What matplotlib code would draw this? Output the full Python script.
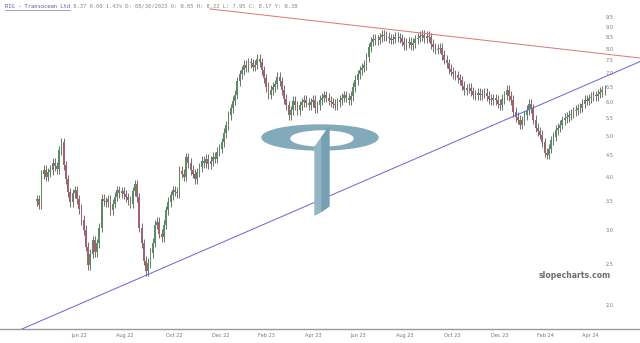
import numpy as np
import pandas as pd
import matplotlib
matplotlib.use("Agg")
import matplotlib.pyplot as plt
from matplotlib.patches import Ellipse, Polygon
from pandas.tseries.offsets import CustomBusinessDay

# ---------------- data ----------------
title_ticker = "RIG - Transocean Ltd"
title_rest = " 8.37 0.00 1.43% D: 08/30/2023 O: 8.05 H: 8.22 L: 7.95 C: 8.17 Y: 8.38"

start_date = "2022-04-06"
nyse_holidays = ["2022-04-15", "2022-05-30", "2022-06-20", "2022-07-04", "2022-09-05",
                 "2022-11-24", "2022-12-26", "2023-01-02", "2023-01-16", "2023-02-20",
                 "2023-04-07", "2023-05-29", "2023-06-19", "2023-07-04", "2023-09-04",
                 "2023-11-23", "2023-12-25", "2024-01-01", "2024-01-15", "2024-02-19",
                 "2024-03-29"]

# closing price every second trading day
closes = [
    3.54, 3.44, 4.05, 4.15, 4.00, 4.10, 4.15, 4.31, 4.23, 4.17,
    4.62, 4.82, 4.26, 3.95, 3.68, 3.49, 3.66, 3.72, 3.54, 3.36,
    3.17, 3.00, 2.74, 2.48, 2.64, 2.84, 2.66, 2.79, 3.04, 3.55,
    3.50, 3.49, 3.54, 3.34, 3.46, 3.59, 3.72, 3.66, 3.70, 3.64,
    3.58, 3.52, 3.46, 3.70, 3.84, 3.58, 3.04, 2.79, 2.54, 2.40,
    2.51, 2.65, 2.80, 3.09, 3.14, 2.94, 2.89, 3.09, 3.34, 3.49,
    3.62, 3.72, 3.69, 3.66, 4.13, 4.07, 4.00, 4.44, 4.31, 4.15,
    4.07, 3.95, 4.10, 4.21, 4.36, 4.31, 4.41, 4.28, 4.36, 4.46,
    4.41, 4.58, 4.66, 4.82, 5.07, 5.28, 5.58, 5.79, 6.04, 6.24,
    6.70, 6.96, 7.11, 7.32, 7.21, 7.43, 7.38, 7.26, 7.33, 7.58,
    7.43, 7.11, 6.81, 6.50, 6.24, 6.40, 6.50, 6.60, 6.86, 6.70,
    6.40, 6.09, 5.89, 5.58, 5.73, 6.04, 5.89, 5.73, 5.89, 5.99,
    6.06, 5.97, 5.89, 5.99, 6.06, 5.79, 5.89, 6.06, 6.14, 6.22,
    6.14, 6.04, 5.99, 5.94, 5.89, 5.99, 6.06, 6.14, 6.22, 6.14,
    6.06, 6.19, 6.50, 6.75, 6.96, 7.11, 7.21, 7.32, 7.63, 8.05,
    8.31, 8.44, 8.36, 8.39, 8.51, 8.61, 8.56, 8.53, 8.46, 8.39,
    8.44, 8.53, 8.50, 8.46, 8.31, 8.16, 8.25, 8.30, 8.16, 8.25,
    8.41, 8.48, 8.56, 8.61, 8.46, 8.56, 8.51, 8.20, 8.05, 7.95,
    8.00, 8.03, 7.73, 7.53, 7.38, 7.16, 7.06, 6.96, 6.93, 6.81,
    6.74, 6.55, 6.40, 6.45, 6.47, 6.35, 6.24, 6.22, 6.30, 6.22,
    6.27, 6.30, 6.19, 6.09, 6.06, 6.11, 6.06, 5.94, 5.90, 6.09,
    6.22, 6.40, 6.19, 6.06, 5.68, 5.53, 5.45, 5.30, 5.43, 5.58,
    5.74, 5.94, 5.79, 5.45, 5.22, 5.12, 5.02, 4.82, 4.56, 4.51,
    4.66, 4.87, 4.97, 5.15, 5.22, 5.30, 5.43, 5.50, 5.53, 5.59,
    5.63, 5.70, 5.74, 5.79, 5.81, 5.94, 6.06, 6.04, 6.12, 6.17,
    6.22, 6.19, 6.27, 6.33, 6.38, 6.40,
]
first_open = 3.50

month_labels = ["Jun 22", "Aug 22", "Oct 22", "Dec 22", "Feb 23", "Apr 23",
                "Jun 23", "Aug 23", "Oct 23", "Dec 23", "Feb 24", "Apr 24"]
month_starts = ["2022-06-01", "2022-08-01", "2022-10-01", "2022-12-01", "2023-02-01",
                "2023-04-01", "2023-06-01", "2023-08-01", "2023-10-01", "2023-12-01",
                "2024-02-01", "2024-04-01"]

ytick_values = [2.0, 2.5, 3.0, 3.5, 4.0, 4.5, 5.0, 5.5, 6.0, 6.5, 7.0, 7.5, 8.0, 8.5, 9.0, 9.5]

# trendlines: (trading-day index, price)
support_x = [-13.5, 542.0]
support_y = [1.757, 7.46]
resist_x = [155.4, 542.0]
resist_y = [9.91, 7.60]

# ---------------- build ----------------
bday = CustomBusinessDay(holidays=pd.to_datetime(nyse_holidays))
n_days = 2 * len(closes)
days = pd.date_range(start_date, periods=n_days, freq=bday)
bar_idx = np.arange(0, n_days, 2)
closes_a = np.array(closes)
opens_a = np.concatenate([[first_open], closes_a[:-1]])

tick_pos = [int(np.searchsorted(days.values, np.datetime64(m))) for m in month_starts]

W, H = 640, 343
fig = plt.figure(figsize=(W / 100, H / 100), dpi=100)
ax = fig.add_axes([0, 14 / H, 1, 1 - 14 / H])
ax.set_yscale("log")
ax.set_ylim(1.757, 10.40)
ax.set_xlim(-33.2, 541.8)

up = closes_a >= opens_a
col_up = "#55905f"
col_dn = "#a8606f"
lo = np.minimum(opens_a, closes_a)
hi = np.maximum(opens_a, closes_a)
ax.vlines(bar_idx, lo * 0.975, hi * 1.025, color="#4a4a4a", lw=0.55, zorder=3)
ax.bar(bar_idx[up], hi[up] - lo[up], bottom=lo[up], width=1.6, color=col_up, zorder=4, linewidth=0)
ax.bar(bar_idx[~up], hi[~up] - lo[~up], bottom=lo[~up], width=1.6, color=col_dn, zorder=4, linewidth=0)

ax.plot(support_x, support_y, color="#6464d8", lw=0.7, zorder=5)
ax.plot(resist_x, resist_y, color="#e07272", lw=0.7, zorder=5)

# axes styling
for s in ["top", "left", "right"]:
    ax.spines[s].set_visible(False)
ax.spines["bottom"].set_color("#999999")
ax.spines["bottom"].set_linewidth(1.0)
ax.set_xticks(tick_pos)
ax.set_xticklabels(month_labels)
ax.tick_params(axis="x", length=0, pad=3, labelsize=3.6, labelcolor="#777777")
ax.yaxis.tick_right()
ax.set_yticks(ytick_values)
ax.set_yticklabels([f"{v:.1f}" for v in ytick_values])
ax.yaxis.set_minor_locator(matplotlib.ticker.NullLocator())
ax.tick_params(axis="y", length=0, pad=-25, labelsize=3.6, labelcolor="#777777")
for lab in ax.get_yticklabels():
    lab.set_horizontalalignment("left")

# logo (figure pixel coordinates)
def fx(x):
    return x / W
def fy(y):
    return 1 - y / H

logo_col = "#82aabb"
ring = Ellipse((fx(320), fy(137.5)), 116 / W, 25 / H, transform=fig.transFigure,
               color=logo_col, zorder=1)
hole = Ellipse((fx(322), fy(138.5)), 62 / W, 15 / H, transform=fig.transFigure,
               color="white", zorder=1.1)
stem_l = Polygon([(fx(315), fy(147)), (fx(322), fy(137)), (fx(322), fy(211)), (fx(315), fy(215))],
                 closed=True, transform=fig.transFigure, color="#93b6c4", zorder=1.2)
stem_r = Polygon([(fx(322), fy(137)), (fx(329), fy(127)), (fx(329), fy(206)), (fx(322), fy(211))],
                 closed=True, transform=fig.transFigure, color="#75a0b2", zorder=1.2)
for p in (ring, hole, stem_l, stem_r):
    fig.patches.append(p)

# title
t1 = fig.text(5 / W, fy(6), title_ticker, fontsize=4.0, family="DejaVu Sans Mono",
              color="#5a5aa8", va="center", ha="left")
fig.canvas.draw()
bb = t1.get_window_extent()
fig.add_artist(plt.Line2D([bb.x0 / W, bb.x1 / W], [fy(9.5), fy(9.5)], color="#5a5aa8",
                          lw=0.4, transform=fig.transFigure))
fig.text(bb.x1 / W, fy(6), title_rest, fontsize=4.0, family="DejaVu Sans Mono",
         color="#888888", va="center", ha="left")

fig.text(fx(575), fy(275), "slopecharts.com", fontsize=5.6, fontweight="bold",
         color="#6e6e6e", ha="center", va="center")

fig.savefig("out.png", dpi=100, facecolor="white")
